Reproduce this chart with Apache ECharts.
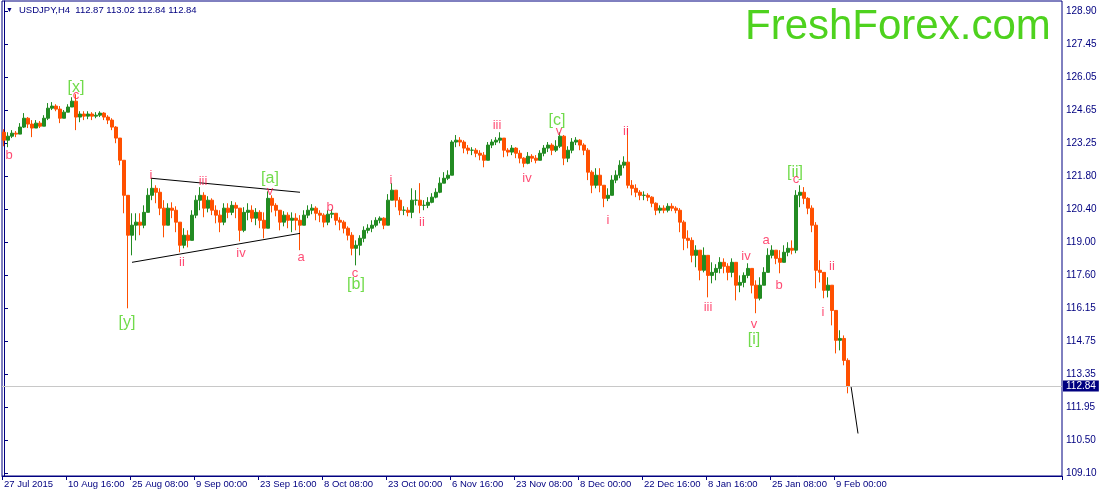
<!DOCTYPE html>
<html><head><meta charset="utf-8">
<script src="https://cdn.jsdelivr.net/npm/echarts@6/dist/echarts.min.js"></script>
<style>html,body{margin:0;padding:0;background:#fff}#c{width:1102px;height:497px}</style>
</head><body><div id="c"></div>
<script>
// USDJPY H4, one candle per 4 H4 bars
const firstOpen = 123.71;
const closePrices = [
123.37,123.54,123.67,123.63,123.93,124.31,124.06,123.89,124.10,123.97,
124.31,124.74,124.83,124.70,124.31,124.57,124.79,125.04,124.36,124.49,
124.40,124.49,124.40,124.44,124.53,124.36,124.23,123.93,123.46,122.51,
121.01,119.30,119.73,119.86,119.73,120.28,121.01,121.31,121.14,120.46,
119.73,120.46,120.37,119.86,118.87,119.30,119.08,120.16,120.80,121.01,
120.46,120.80,120.37,120.16,119.86,120.46,120.28,120.58,120.46,119.51,
120.28,120.37,120.03,120.28,119.94,119.60,120.88,120.58,120.37,119.86,
120.16,119.94,120.03,119.94,119.73,120.16,120.37,120.46,120.24,120.16,
119.86,120.20,120.24,119.94,119.86,119.60,119.30,118.74,118.87,119.17,
119.51,119.60,119.73,119.94,120.03,119.73,120.80,121.23,120.80,120.37,
120.37,120.28,120.80,120.80,120.58,120.58,120.71,120.93,121.14,121.53,
121.74,121.87,123.29,123.37,123.29,123.03,122.94,122.94,122.81,122.73,
122.51,123.16,123.29,123.37,123.46,122.94,122.86,123.03,122.81,122.60,
122.38,122.68,122.60,122.51,122.81,123.03,123.16,122.94,123.11,123.54,
122.60,122.94,123.29,123.37,123.16,122.94,122.00,121.44,121.87,121.44,
120.88,121.01,121.66,121.87,122.30,122.43,121.44,121.31,121.14,121.01,
121.01,120.93,120.67,120.37,120.46,120.37,120.54,120.46,120.37,119.86,
119.17,119.08,118.44,118.66,117.80,118.44,117.58,117.71,117.88,118.14,
117.97,117.71,118.14,117.16,117.28,117.58,117.88,117.16,116.60,117.16,
117.71,118.44,118.66,118.31,118.14,118.57,118.74,118.66,121.01,121.14,
120.88,120.46,119.73,117.80,117.71,116.94,117.16,116.08,114.80,114.88,
113.94,112.84];
const highPrices = [
123.84,123.71,123.80,123.76,124.10,124.53,124.36,124.23,124.23,124.19,
124.44,124.96,125.00,124.91,124.83,124.66,124.91,125.21,125.34,124.61,
124.61,124.61,124.57,124.57,124.61,124.57,124.44,124.31,123.97,123.46,
122.51,121.01,120.24,120.24,120.24,120.58,121.31,121.74,121.44,121.31,
120.80,120.67,120.71,120.54,119.60,119.60,119.51,120.37,121.01,121.36,
121.14,120.97,120.88,120.58,120.37,120.67,120.67,120.76,120.71,120.37,
120.50,120.67,120.58,120.46,120.37,120.28,121.18,121.01,120.67,120.28,
120.33,120.28,120.28,120.24,120.16,120.37,120.58,120.63,120.54,120.37,
120.24,120.37,120.41,120.20,120.07,119.94,119.68,119.43,119.08,119.30,
119.68,119.77,119.94,120.07,120.11,120.07,121.06,121.53,121.23,120.93,
120.54,120.50,121.31,121.23,121.53,120.80,120.93,121.10,121.31,121.78,
122.00,122.08,123.37,123.59,123.50,123.37,123.16,123.07,123.03,122.94,
122.86,123.29,123.41,123.50,123.71,123.46,123.03,123.16,123.07,122.94,
122.64,122.86,122.77,122.73,122.94,123.16,123.29,123.24,123.37,123.71,
123.59,123.11,123.46,123.50,123.41,123.24,123.03,122.08,122.17,122.17,
121.44,121.31,121.87,122.08,122.51,122.68,123.89,121.66,121.48,121.23,
121.18,121.10,120.97,120.71,120.58,120.58,120.67,120.67,120.54,120.46,
119.94,119.51,119.21,118.87,118.44,118.78,118.44,118.14,118.06,118.36,
118.31,118.10,118.31,118.01,117.58,117.71,118.10,117.71,117.37,117.50,
117.93,118.74,118.87,118.66,118.66,118.87,119.00,119.08,121.23,121.44,
121.36,120.93,120.58,119.86,118.23,117.46,117.50,117.16,115.87,115.23,
115.01,114.03];
const lowPrices = [
123.11,123.07,123.46,123.50,123.63,123.89,123.89,123.50,123.89,123.89,
123.97,124.23,124.66,124.61,124.10,124.36,124.57,124.87,123.80,124.14,
124.23,124.27,124.23,124.31,124.36,124.23,124.06,123.80,123.24,122.30,
120.24,116.17,118.44,119.08,119.30,119.60,120.37,120.80,120.67,120.16,
119.21,119.86,120.03,119.43,118.57,118.74,118.78,119.08,120.03,120.37,
120.07,120.28,120.16,119.81,119.43,119.73,120.03,120.16,120.03,119.04,
119.43,119.94,119.86,119.73,119.60,119.17,119.73,120.28,120.11,119.51,
119.68,119.60,119.43,119.51,118.66,119.73,120.03,120.20,119.94,119.86,
119.64,119.73,120.03,119.73,119.51,119.38,119.08,118.44,118.01,118.44,
119.00,119.38,119.43,119.64,119.81,119.56,119.73,120.80,120.50,120.16,
120.16,120.11,120.03,120.58,120.24,120.37,120.46,120.67,120.88,121.10,
121.53,121.66,121.87,123.07,123.11,122.81,122.77,122.73,122.64,122.51,
122.21,122.51,123.03,123.16,123.24,122.64,122.68,122.73,122.60,122.38,
122.21,122.34,122.43,122.38,122.51,122.68,122.86,122.73,122.86,123.03,
122.30,122.43,122.81,123.16,122.94,122.73,121.66,121.10,121.31,121.14,
120.50,120.76,121.01,121.53,121.74,122.17,121.31,121.01,120.93,120.80,
120.80,120.76,120.50,120.16,120.24,120.24,120.28,120.33,120.24,119.43,
118.66,118.74,118.14,117.93,117.37,117.71,116.64,117.24,117.37,117.67,
117.67,117.37,117.50,116.51,116.86,117.07,117.46,116.81,115.96,116.51,
117.28,117.88,118.31,118.06,117.67,118.14,118.40,118.48,118.53,120.50,
120.63,120.20,119.43,117.03,117.28,116.60,116.64,115.44,114.24,114.37,
113.73,112.53];

const dateLabels = ['27 Jul 2015','10 Aug 16:00','25 Aug 08:00','9 Sep 00:00','23 Sep 16:00','8 Oct 08:00',
  '23 Oct 00:00','6 Nov 16:00','23 Nov 08:00','8 Dec 00:00','22 Dec 16:00','8 Jan 16:00','25 Jan 08:00','9 Feb 00:00'];
const priceTickValues = [109.10,110.5143,111.9286,113.3429,114.7571,116.1714,117.5857,119.00,120.4143,121.8286,123.2429,124.6571,126.0714,127.4857,128.90];
const priceTickLabels = ['109.10','110.50','111.95','113.35','114.75','116.15','117.60','119.00','120.40','121.80','123.25','124.65','126.05','127.45','128.90'];
const lastPrice = 112.84;
const titleText = 'USDJPY,H4  112.87 113.02 112.84 112.84';
const watermark = 'FreshForex.com';

// wave labels: text, candle index, price, kind (r = minor red, g = bracketed green)
const waveLabels = [
  ['b',1.25,122.73,'r'],['c',18,125.30,'r'],['[x]',18,125.64,'g'],['[y]',30.75,115.57,'g'],
  ['i',36.75,121.87,'r'],['ii',44.5,118.14,'r'],['iii',49.75,121.61,'r'],['iv',59.25,118.53,'r'],
  ['[a]',66.5,121.74,'g'],['v',66.5,121.18,'r'],['a',74.25,118.36,'r'],['b',81.5,120.50,'r'],
  ['c',87.75,117.67,'r'],['[b]',88,117.20,'g'],['i',96.75,121.66,'r'],['ii',104.5,119.86,'r'],
  ['iii',123.25,124.01,'r'],['iv',130.75,121.74,'r'],['[c]',138.25,124.23,'g'],['v',138.75,123.76,'r'],
  ['i',151,119.94,'r'],['ii',155.5,123.76,'r'],['iii',176,116.21,'r'],['iv',185.5,118.40,'r'],
  ['a',190.5,119.08,'r'],['b',193.75,117.16,'r'],['v',187.5,115.48,'r'],['[i]',187.5,114.84,'g'],
  ['[ii]',197.75,122.00,'g'],['c',198,121.70,'r'],['ii',207,117.97,'r'],['i',204.75,116.00,'r']
];
const triangleUpper = [[36.75,121.74],[74,121.14]];
const triangleLower = [[32,118.14],[74,119.38]];
const projection = [[211.75,112.84],[213.5,110.81]];
const totalSlots = 265;

const categories = Array.from({length: totalSlots}, (_, i) => String(i));
const candles = closePrices.map((c, i) => {
  const o = i === 0 ? firstOpen : closePrices[i - 1];
  return [o, c, Math.min(lowPrices[i], o, c), Math.max(highPrices[i], o, c)];
});

const NAVY = '#000080';
const RED = '#ff1e50';
const GREEN = '#4ed21e';
const FONT = 'Liberation Sans';

const chart = echarts.init(document.getElementById('c'), null, {renderer: 'canvas'});
chart.setOption({
  animation: false,
  backgroundColor: '#ffffff',
  grid: {left: 2, right: 40, top: 1, bottom: 21, show: true, borderColor: NAVY, borderWidth: 1, backgroundColor: 'transparent'},
  xAxis: [{
    type: 'category', data: categories, boundaryGap: true,
    axisLine: {show: true, lineStyle: {color: NAVY}},
    axisTick: {show: true, length: 4, interval: (i) => i % 16 === 0 && i / 16 < dateLabels.length, lineStyle: {color: NAVY}},
    axisLabel: {show: true, interval: (i) => i % 16 === 0 && i / 16 < dateLabels.length,
      formatter: (v, i) => dateLabels[Math.round(Number(v) / 16)] || '',
      align: 'left', margin: 3, color: NAVY, fontSize: 9.5, fontFamily: FONT},
    splitLine: {show: false}
  }, {
    type: 'value', min: -0.5, max: totalSlots - 0.5, show: false, splitLine: {show: false}
  }],
  yAxis: {
    type: 'value', position: 'right', min: 108.99, max: 129.33, scale: true,
    axisLine: {show: true, lineStyle: {color: NAVY}},
    axisTick: {show: true, length: 4, customValues: priceTickValues, lineStyle: {color: NAVY}},
    axisLabel: {show: true, customValues: priceTickValues, margin: 4, color: NAVY, fontSize: 10, fontFamily: FONT,
      formatter: (v) => {
        let best = 0;
        priceTickValues.forEach((t, k) => { if (Math.abs(t - v) < Math.abs(priceTickValues[best] - v)) best = k; });
        return priceTickLabels[best];
      }},
    splitLine: {show: false}
  },
  series: [{
    type: 'candlestick', xAxisIndex: 0, yAxisIndex: 0, data: candles, barWidth: 3,
    itemStyle: {color: '#228b22', color0: '#ff5000', borderColor: '#228b22', borderColor0: '#ff5000', borderWidth: 1},
    markLine: {
      silent: true, symbol: 'none', animation: false,
      lineStyle: {color: '#c8c8c8', width: 1, type: 'solid'},
      label: {show: true, position: 'end', distance: 1, formatter: lastPrice.toFixed(2), color: '#ffffff',
        backgroundColor: NAVY, padding: [1, 3, 0, 3], fontSize: 10, fontFamily: FONT},
      data: [{yAxis: lastPrice}]
    },
    z: 3
  }, {
    type: 'line', xAxisIndex: 1, yAxisIndex: 0, data: triangleUpper, symbol: 'none',
    lineStyle: {color: '#000', width: 1}, z: 4
  }, {
    type: 'line', xAxisIndex: 1, yAxisIndex: 0, data: triangleLower, symbol: 'none',
    lineStyle: {color: '#000', width: 1}, z: 4
  }, {
    type: 'line', xAxisIndex: 1, yAxisIndex: 0, data: projection, symbol: 'none',
    lineStyle: {color: '#000', width: 1}, z: 4
  }, {
    type: 'scatter', xAxisIndex: 1, yAxisIndex: 0, symbolSize: 1,
    itemStyle: {color: 'rgba(0,0,0,0)'},
    data: waveLabels.map(w => ({
      value: [w[1], w[2]],
      label: {show: true, position: 'inside', formatter: w[0],
        color: w[3] === 'g' ? GREEN : RED, fontSize: w[3] === 'g' ? 16 : 13, fontFamily: FONT}
    })),
    z: 5
  }],
  graphic: [
    {type: 'text', left: 6, top: 7, style: {text: '▼', fill: NAVY, font: '7px ' + FONT}},
    {type: 'text', left: 19, top: 5, style: {text: titleText, fill: NAVY, font: '9.5px ' + FONT}},
    {type: 'text', left: 745, top: 6, style: {text: watermark, fill: GREEN, font: '42px ' + FONT}}
  ]
});
</script></body></html>
